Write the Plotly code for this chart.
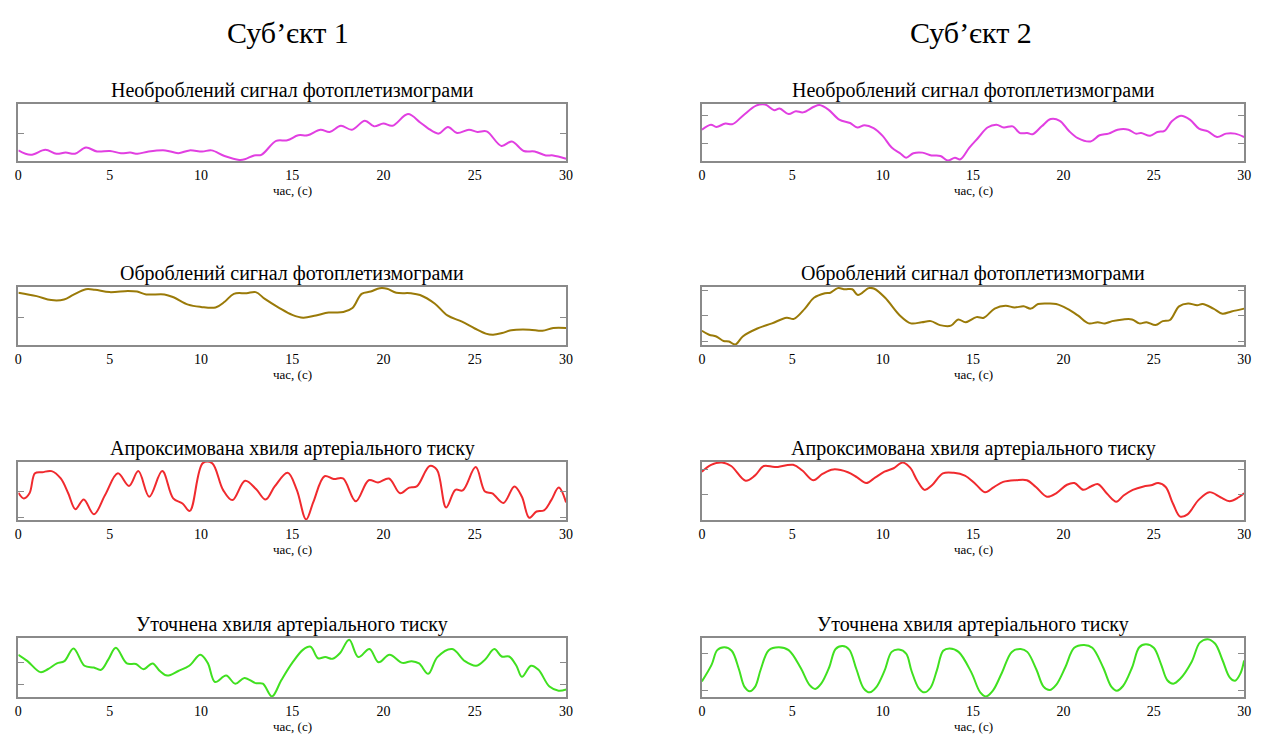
import plotly.graph_objects as go

# ---- shared axis data ----
time_ticks = [0, 5, 10, 15, 20, 25, 30]
time_range = [0, 30]
subject_titles = ["Суб’єкт 1", "Суб’єкт 2"]
panel_titles = [
    "Необроблений сигнал фотоплетизмограми",
    "Оброблений сигнал фотоплетизмограми",
    "Апроксимована хвиля артеріального тиску",
    "Уточнена хвиля артеріального тиску",
]
x_label = "час, (с)"

# ---- subject 1: raw PPG ----
raw1_t = [0, 0.67, 1.48, 2.08, 2.59, 3.10, 3.70, 4.31, 5.02, 5.62, 6.13, 6.53, 7.14, 8.05, 8.76,
          9.37, 10.07, 10.58, 11.29, 12.10, 12.40, 12.91, 13.31, 14.12, 14.73, 15.33, 15.84,
          16.55, 17.05, 17.66, 18.27, 18.98, 19.48, 19.99, 20.49, 21.34, 22.01, 22.42, 23.02,
          23.53, 24.03, 24.68, 25.15, 25.65, 26.46, 27.03, 27.68, 28.28, 28.89, 29.29, 30]
raw1_v = [0.18, 0.10, 0.19, 0.12, 0.14, 0.12, 0.23, 0.16, 0.17, 0.13, 0.14, 0.12, 0.16, 0.18,
          0.13, 0.18, 0.16, 0.18, 0.08, 0.01, 0.02, 0.09, 0.10, 0.35, 0.36, 0.45, 0.45, 0.55,
          0.51, 0.62, 0.55, 0.71, 0.61, 0.66, 0.62, 0.83, 0.68, 0.58, 0.48, 0.60, 0.49, 0.55,
          0.51, 0.52, 0.26, 0.34, 0.17, 0.16, 0.09, 0.09, 0.03]

# ---- subject 2: raw PPG ----
raw2_t = [0, 0.5, 0.8, 1.3, 1.7, 2.3, 3.0, 3.5, 4.0, 4.3, 4.8, 5.2, 5.6, 6.2, 6.5, 7.0, 7.6,
          8.2, 8.6, 9.0, 9.5, 10.0, 10.5, 11.0, 11.3, 11.7, 12.2, 12.7, 13.2, 13.6, 14.0,
          14.3, 14.8, 15.3, 15.8, 16.3, 16.7, 17.2, 17.6, 18.0, 18.3, 18.8, 19.3, 19.8, 20.3,
          20.8, 21.5, 22.0, 22.5, 23.0, 23.6, 24.0, 24.3, 24.8, 25.2, 25.6, 26.0, 26.5, 27.0,
          27.5, 28.0, 28.5, 29.0, 29.5, 30.0]
raw2_v = [0.55, 0.64, 0.60, 0.66, 0.65, 0.81, 0.98, 1.0, 0.90, 0.93, 0.83, 0.88, 0.86, 0.96,
          0.99, 0.91, 0.73, 0.67, 0.59, 0.63, 0.58, 0.44, 0.23, 0.12, 0.05, 0.13, 0.14, 0.09,
          0.08, 0.0, 0.05, 0.02, 0.23, 0.41, 0.59, 0.64, 0.59, 0.61, 0.49, 0.49, 0.47, 0.61,
          0.74, 0.71, 0.53, 0.40, 0.34, 0.45, 0.48, 0.55, 0.55, 0.48, 0.49, 0.44, 0.51, 0.53,
          0.70, 0.80, 0.73, 0.57, 0.52, 0.42, 0.48, 0.48, 0.42]

# ---- subject 1: processed PPG ----
proc1_t = [0, 1.0, 1.8, 2.5, 3.0, 3.7, 4.2, 5.0, 6.0, 6.5, 7.0, 8.0, 8.5, 9.3, 10.0, 10.8,
           11.3, 11.8, 12.5, 13.0, 13.5, 14.3, 15.0, 15.6, 16.3, 17.0, 17.8, 18.3, 18.8, 19.3,
           19.8, 20.2, 20.7, 21.5, 22.0, 22.8, 23.5, 24.3, 25.0, 25.6, 26.0, 26.5, 27.0, 28.0,
           28.7, 29.3, 30.0]
proc1_v = [0.91, 0.85, 0.78, 0.79, 0.87, 0.97, 0.96, 0.92, 0.94, 0.93, 0.88, 0.88, 0.83, 0.70,
           0.66, 0.65, 0.75, 0.89, 0.90, 0.92, 0.80, 0.64, 0.52, 0.47, 0.51, 0.56, 0.57, 0.64,
           0.89, 0.93, 0.99, 0.98, 0.91, 0.90, 0.87, 0.72, 0.51, 0.40, 0.28, 0.19, 0.17, 0.20,
           0.25, 0.26, 0.24, 0.29, 0.29]

# ---- subject 2: processed PPG ----
proc2_t = [0, 0.4, 0.8, 1.2, 1.5, 1.86, 2.26, 3.07, 3.88, 4.69, 5.09, 5.70, 6.20, 6.81, 7.11,
           7.52, 7.92, 8.32, 8.63, 9.23, 9.54, 10.14, 10.95, 11.56, 12.16, 12.67, 13.17, 13.78,
           14.18, 14.59, 15.19, 15.6, 16.2, 16.8, 17.3, 17.8, 18.2, 18.6, 19.2, 19.6, 20.2,
           20.8, 21.4, 21.9, 22.3, 22.7, 23.3, 23.8, 24.2, 24.6, 25.1, 25.5, 25.9, 26.4, 26.9,
           27.4, 27.7, 28.3, 28.8, 29.3, 30]
proc2_v = [0.24, 0.17, 0.14, 0.06, 0.05, 0.0, 0.14, 0.28, 0.37, 0.47, 0.45, 0.63, 0.82, 0.90,
           0.91, 0.99, 0.97, 0.97, 0.87, 0.99, 0.98, 0.82, 0.51, 0.37, 0.39, 0.41, 0.34, 0.33,
           0.44, 0.39, 0.48, 0.47, 0.63, 0.68, 0.65, 0.67, 0.63, 0.71, 0.72, 0.71, 0.63, 0.51,
           0.37, 0.39, 0.37, 0.41, 0.44, 0.44, 0.37, 0.39, 0.34, 0.41, 0.43, 0.67, 0.72, 0.69,
           0.71, 0.63, 0.54, 0.58, 0.63]

# ---- subject 1: approximated arterial pressure wave ----
abp1_t = [0, 0.30, 0.61, 0.91, 1.31, 1.82, 2.32, 2.73, 3.13, 3.58, 4.14, 4.75, 5.45, 6.06,
          6.57, 7.17, 7.88, 8.48, 8.99, 9.39, 10.10, 10.61, 11.21, 11.72, 12.42, 13.03, 13.54,
          14.04, 14.75, 15.25, 15.76, 16.16, 16.77, 17.27, 17.78, 18.48, 19.19, 19.70, 20.30,
          20.91, 21.41, 21.82, 22.53, 22.93, 23.43, 23.94, 24.34, 25.05, 25.56, 25.96, 26.57,
          27.17, 27.58, 27.98, 28.38, 28.79, 29.19, 29.60, 30]
abp1_v = [0.47, 0.37, 0.46, 0.81, 0.83, 0.85, 0.72, 0.46, 0.18, 0.35, 0.09, 0.43, 0.81, 0.59,
          0.85, 0.40, 0.85, 0.37, 0.28, 0.15, 0.99, 0.99, 0.52, 0.34, 0.68, 0.53, 0.35, 0.58,
          0.82, 0.52, 0.0, 0.31, 0.76, 0.71, 0.72, 0.32, 0.69, 0.65, 0.72, 0.46, 0.56, 0.58,
          0.94, 0.87, 0.21, 0.52, 0.51, 0.92, 0.49, 0.46, 0.29, 0.58, 0.40, 0.03, 0.14, 0.16,
          0.34, 0.56, 0.30]

# ---- subject 2: approximated arterial pressure wave ----
abp2_t = [0, 0.51, 1.11, 1.62, 2.42, 2.93, 3.43, 4.04, 5.05, 5.56, 6.16, 6.67, 7.27, 8.08,
          8.59, 9.09, 9.60, 10.10, 10.61, 11.11, 11.52, 11.92, 12.32, 12.73, 13.33, 13.94,
          14.55, 15.15, 15.66, 16.16, 16.67, 17.37, 17.98, 18.48, 19.09, 19.60, 20.20, 20.61,
          21.11, 21.52, 21.92, 22.42, 22.93, 23.33, 23.84, 24.44, 24.85, 25.25, 25.66, 26.06,
          26.46, 26.87, 27.47, 28.08, 28.69, 29.19, 29.70, 30]
abp2_v = [0.84, 0.96, 1.0, 0.94, 0.68, 0.77, 0.94, 0.92, 0.96, 0.86, 0.69, 0.80, 0.88, 0.83,
          0.74, 0.64, 0.74, 0.84, 0.90, 1.0, 0.91, 0.68, 0.52, 0.60, 0.81, 0.82, 0.77, 0.62,
          0.48, 0.57, 0.66, 0.69, 0.69, 0.57, 0.40, 0.46, 0.61, 0.64, 0.52, 0.58, 0.62, 0.45,
          0.31, 0.42, 0.52, 0.58, 0.60, 0.64, 0.57, 0.28, 0.05, 0.09, 0.34, 0.48, 0.39, 0.32,
          0.39, 0.46]

# ---- subject 1: refined arterial pressure wave ----
ref1_t = [0, 0.50, 1.21, 1.61, 2.11, 2.52, 3.02, 3.62, 4.13, 4.53, 4.93, 5.34, 5.94, 6.44,
          6.85, 7.35, 7.75, 8.15, 8.76, 9.36, 9.97, 10.37, 10.77, 11.38, 11.88, 12.38, 12.99,
          13.39, 13.89, 14.40, 15.00, 15.60, 16.01, 16.41, 16.81, 17.21, 17.62, 18.12, 18.62,
          19.23, 19.73, 20.33, 21.04, 21.54, 21.95, 22.45, 22.95, 23.76, 24.46, 25.07, 25.57,
          26.07, 26.47, 26.88, 27.28, 27.58, 28.08, 28.49, 29.09, 29.59, 30]
ref1_v = [0.72, 0.61, 0.42, 0.47, 0.57, 0.61, 0.83, 0.53, 0.50, 0.46, 0.64, 0.84, 0.57, 0.56,
          0.47, 0.57, 0.44, 0.36, 0.44, 0.53, 0.72, 0.58, 0.25, 0.36, 0.22, 0.32, 0.23, 0.22,
          0.0, 0.28, 0.58, 0.81, 0.86, 0.66, 0.68, 0.65, 0.75, 0.98, 0.68, 0.82, 0.59, 0.72,
          0.58, 0.61, 0.57, 0.39, 0.68, 0.82, 0.61, 0.53, 0.64, 0.82, 0.69, 0.69, 0.53, 0.34,
          0.53, 0.46, 0.17, 0.10, 0.12]

# ---- subject 2: refined arterial pressure wave ----
ref2_t = [0, 0.54, 0.85, 1.25, 1.65, 2.05, 2.35, 2.65, 2.95, 3.26, 3.7, 4.26, 4.8, 5.47, 5.95,
          6.27, 6.6, 7.04, 7.4, 7.78, 8.15, 8.55, 8.95, 9.29, 9.65, 10.1, 10.5, 10.9, 11.3,
          11.6, 12.0, 12.31, 12.65, 13.0, 13.35, 13.71, 14.2, 14.9, 15.4, 15.72, 16.1, 16.6,
          17.15, 17.64, 18.0, 18.5, 18.9, 19.24, 19.6, 20.1, 20.6, 21.15, 21.6, 22.2, 22.65,
          22.96, 23.3, 23.8, 24.2, 24.57, 25.0, 25.4, 25.75, 26.08, 26.45, 27.1, 27.55, 27.99,
          28.4, 28.8, 29.2, 29.5, 29.8, 30]
ref2_v = [0.26, 0.55, 0.80, 0.85, 0.79, 0.47, 0.17, 0.09, 0.17, 0.47, 0.80, 0.85, 0.80, 0.49,
          0.20, 0.13, 0.22, 0.50, 0.82, 0.87, 0.81, 0.47, 0.14, 0.07, 0.16, 0.44, 0.77, 0.81,
          0.74, 0.44, 0.14, 0.07, 0.15, 0.45, 0.79, 0.83, 0.77, 0.42, 0.07, 0.0, 0.10, 0.41,
          0.77, 0.82, 0.77, 0.47, 0.17, 0.11, 0.20, 0.50, 0.84, 0.89, 0.84, 0.50, 0.17, 0.10,
          0.18, 0.50, 0.85, 0.90, 0.84, 0.56, 0.28, 0.22, 0.30, 0.60, 0.93, 0.99, 0.91, 0.63,
          0.33, 0.27, 0.40, 0.62]

# y tick positions (unlabelled) for each panel
yticks_raw1, yticks_raw2 = [0.49], [0.30, 0.80]
yticks_proc1, yticks_proc2 = [0.48], [0.06, 0.51, 0.95]
yticks_abp1, yticks_abp2 = [0.04, 0.50], [0.44, 0.87]
yticks_ref1, yticks_ref2 = [0.20, 0.59], [0.11, 0.75]

MAGENTA = "#e13fe1"
OLIVE = "#9a7a08"
RED = "#f02a2e"
GREEN = "#40e020"

SERIF = "Liberation Serif, Times New Roman, serif"
FRAME = "#8a8a8a"

# (column, row, t, values, colour, yticks)
panels = [
    (0, 0, raw1_t, raw1_v, MAGENTA, yticks_raw1),
    (1, 0, raw2_t, raw2_v, MAGENTA, yticks_raw2),
    (0, 1, proc1_t, proc1_v, OLIVE, yticks_proc1),
    (1, 1, proc2_t, proc2_v, OLIVE, yticks_proc2),
    (0, 2, abp1_t, abp1_v, RED, yticks_abp1),
    (1, 2, abp2_t, abp2_v, RED, yticks_abp2),
    (0, 3, ref1_t, ref1_v, GREEN, yticks_ref1),
    (1, 3, ref2_t, ref2_v, GREEN, yticks_ref2),
]

W, H = 1266, 735
col_px = [(14.5, 567.0), (704.0, 1251.0)]
row_px = [(104, 161), (287, 345), (462, 520), (638, 697)]

fig = go.Figure()
annotations = []
for i, (c, r, t, v, colour, yt) in enumerate(panels, start=1):
    sfx = "" if i == 1 else str(i)
    x0, x1 = col_px[c]
    top, bot = row_px[r]
    fig.add_trace(go.Scatter(
        x=t, y=v, mode="lines", showlegend=False, hoverinfo="skip",
        line=dict(color=colour, width=2, shape="spline", smoothing=1.0),
        xaxis=f"x{sfx}", yaxis=f"y{sfx}",
    ))
    fig.update_layout(**{
        f"xaxis{sfx}": dict(
            domain=[x0 / W, x1 / W], anchor=f"y{sfx}", range=time_range,
            tickvals=time_ticks, ticks="", showgrid=False, zeroline=False,
            showline=True, linecolor=FRAME, linewidth=1.5, mirror=True,
            tickfont=dict(family=SERIF, size=14, color="black"),
        ),
        f"yaxis{sfx}": dict(
            domain=[1 - bot / H, 1 - top / H], anchor=f"x{sfx}", range=[-0.01, 1.01],
            tickvals=yt, showticklabels=False, ticks="inside", ticklen=6,
            tickcolor=FRAME, tickwidth=1.2, showgrid=False, zeroline=False,
            showline=True, linecolor=FRAME, linewidth=1.5, mirror="ticks",
        ),
    })
    # panel title above the frame
    annotations.append(dict(
        text=panel_titles[r], xref=f"x{sfx} domain", yref=f"y{sfx} domain",
        x=0.5, y=1, xanchor="center", yanchor="bottom", yshift=0, showarrow=False,
        font=dict(family=SERIF, size=20, color="black"),
    ))
    # time-axis caption below the tick labels
    annotations.append(dict(
        text=x_label, xref=f"x{sfx} domain", yref=f"y{sfx} domain",
        x=0.5, y=0, xanchor="center", yanchor="middle", yshift=-29, showarrow=False,
        font=dict(family=SERIF, size=13, color="black"),
    ))

for c, name in enumerate(subject_titles):
    annotations.append(dict(
        text=name, xref="paper", yref="paper",
        x=(286 if c == 0 else 975) / W, y=1 - 33 / H,
        xanchor="center", yanchor="middle", showarrow=False,
        font=dict(family=SERIF, size=30, color="black"),
    ))

fig.update_layout(
    width=W, height=H, margin=dict(l=0, r=0, t=0, b=0),
    paper_bgcolor="white", plot_bgcolor="white",
    annotations=annotations,
)

fig.write_html("out.html", config={"displayModeBar": False})
